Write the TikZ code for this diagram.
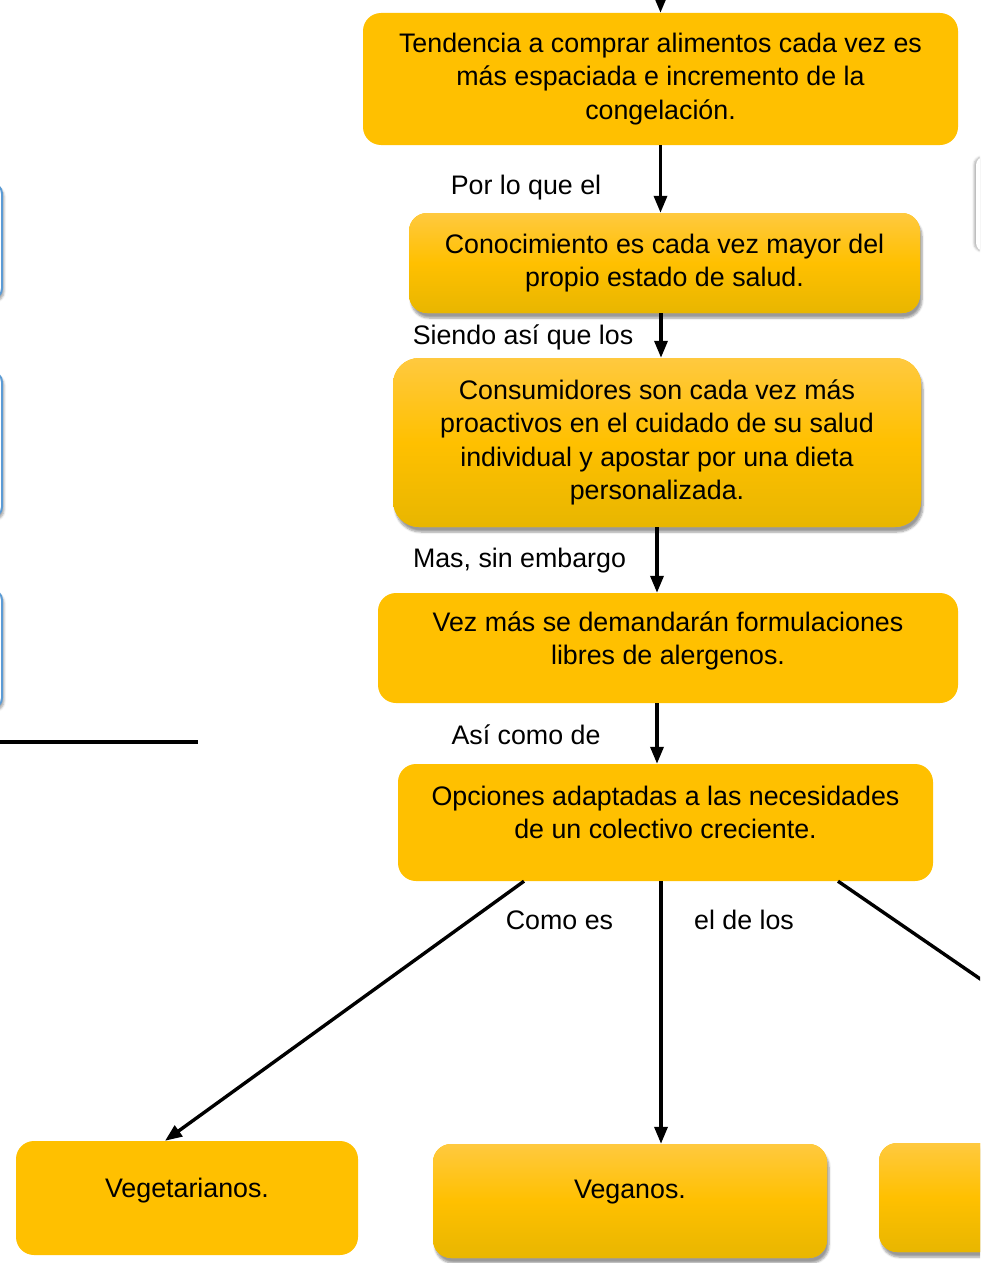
\documentclass[tikz,border=0pt]{standalone}
\usepackage{fontspec}
\setmainfont{Liberation Sans}
\usetikzlibrary{arrows.meta,shadows.blur}
\definecolor{amber}{HTML}{FFC000}
\definecolor{amberlight}{HTML}{FFC93F}
\definecolor{amberdark}{HTML}{E8B600}
\definecolor{edgeblue}{HTML}{5B9BD5}

\begin{document}
\begin{tikzpicture}[
  x=1pt, y=-1pt,
  every node/.style={font=\fontsize{26.8}{33.3}\selectfont, align=center},
  flatbox/.style={fill=amber, rounded corners=18pt, inner sep=0pt},
  glossbox/.style={flatbox, top color=amberlight, bottom color=amberdark, middle color=amber,
    blur shadow={shadow xshift=2pt, shadow yshift=-5pt, shadow blur steps=6, shadow opacity=40}},
  sidebox/.style={draw=edgeblue, line width=2pt, fill=white, rounded corners=10pt, minimum width=200pt,
    blur shadow={shadow xshift=2pt, shadow yshift=-3pt, shadow opacity=35}},
  link/.style={line width=3.4pt, -{Triangle[length=17pt,width=13pt]}}
]
  \useasboundingbox (0,0) rectangle (980,1263);
  \clip (0,0) rectangle (980,1263);

  \node[sidebox, minimum height=115pt] (side1) at (-98,241) {};
  \node[sidebox, minimum height=145pt] (side2) at (-98,444.5) {};
  \node[sidebox, minimum height=118pt] (side3) at (-98,649) {};
  \node[fill=white, minimum width=208pt, minimum height=94pt, rounded corners=8pt,
    blur shadow={shadow xshift=-2pt, shadow yshift=0pt, shadow opacity=30}] (side4) at (1080,204) {};

  \node[flatbox, minimum width=595pt, minimum height=132pt] (trend) at (660.5,79)
    {Tendencia a comprar alimentos cada vez es\\ más espaciada e incremento de la\\ congelación.};
  \node[glossbox, minimum width=511pt, minimum height=100pt] (know) at (664.5,263)
    {Conocimiento es cada vez mayor del\\ propio estado de salud.};
  \node[glossbox, minimum width=528pt, minimum height=169pt, rounded corners=26pt] (consumers) at (657,442.5)
    {Consumidores son cada vez más\\ proactivos en el cuidado de su salud\\ individual y apostar por una dieta\\ personalizada.};
  \node[flatbox, minimum width=580pt, minimum height=110pt, text depth=20pt] (demand) at (668,648)
    {Vez más se demandarán formulaciones\\ libres de alergenos.};
  \node[flatbox, minimum width=535pt, minimum height=117pt, text depth=20pt] (options) at (665.5,822.5)
    {Opciones adaptadas a las necesidades\\ de un colectivo creciente.};
  \node[flatbox, minimum width=342pt, minimum height=114pt, text depth=20pt] (vegetarian) at (187,1198) {Vegetarianos.};
  \node[glossbox, minimum width=394pt, minimum height=114pt, text depth=24pt] (vegan) at (630,1201) {Veganos.};
  \node[glossbox, minimum width=222pt, minimum height=109pt] (third) at (990,1197.5) {};

  \coordinate (entry) at (660.5,-30);
  \coordinate (offstage) at (1219,1143);
  \coordinate (rule) at (0,742);

  \draw[link] (entry) -- (trend.north);
  \draw[link] (trend.south) -- (trend.south |- know.north);
  \draw[link] ([xshift=-3.5pt]know.south) -- ([xshift=-3.5pt]know.south |- consumers.north);
  \draw[link] (consumers.south) -- (consumers.south |- demand.north);
  \draw[link] (demand.south -| consumers.south) -- (consumers.south |- options.north);
  \draw[link] ([xshift=-141.5pt]options.south) -- ([xshift=-22pt]vegetarian.north);
  \draw[link] ([xshift=-4.5pt]options.south) -- ([xshift=-4.5pt]options.south |- vegan.north);
  \draw[link] ([xshift=172.5pt]options.south) -- (offstage);
  \draw[line width=3.5pt] (rule) -- ++(198,0);

  \node (l1) at (526,188) {Por lo que el};
  \node (l2) at (523,337) {Siendo así que los};
  \node (l3) at (519.5,561) {Mas, sin embargo};
  \node (l4) at (526,735) {Así como de};
  \node (l5) at (559.5,920) {Como es};
  \node (l6) at (744,920) {el de los};
\end{tikzpicture}
\end{document}
